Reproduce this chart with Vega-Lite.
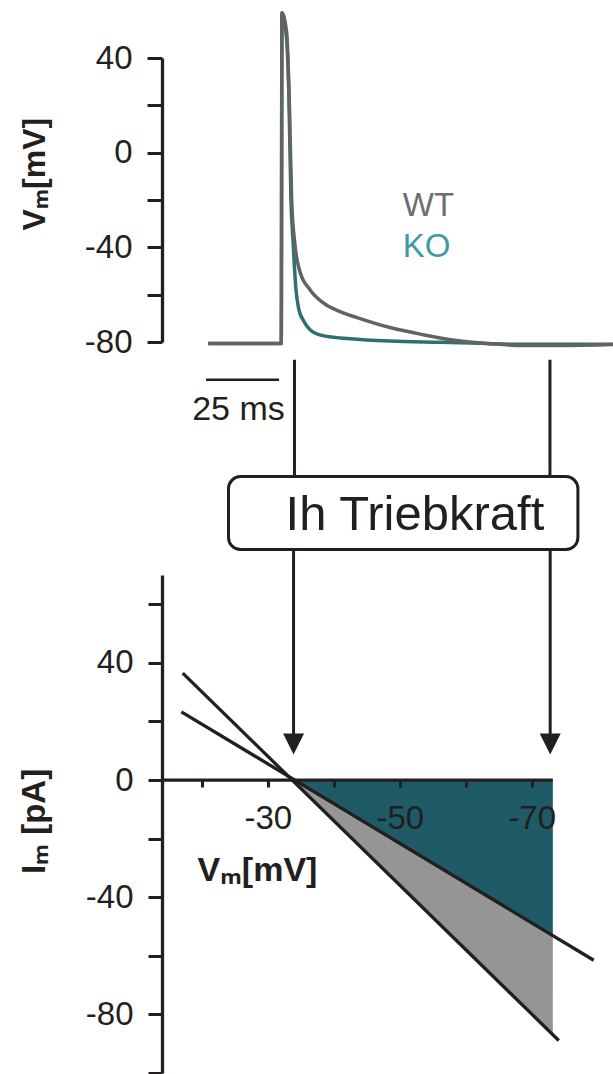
{
  "$schema": "https://vega.github.io/schema/vega-lite/v6.json",
  "padding": {"left": 18, "top": 5, "right": 0, "bottom": 0},
  "background": "white",
  "spacing": 233,
  "bounds": "flush",
  "config": {
    "view": {"stroke": null},
    "axis": {
      "grid": false,
      "labelFont": "Liberation Sans",
      "titleFont": "Liberation Sans, Noto Sans, DejaVu Sans",
      "domainColor": "#231f20",
      "tickColor": "#231f20",
      "labelColor": "#231f20",
      "titleColor": "#231f20"
    },
    "text": {"font": "Liberation Sans"}
  },
  "datasets": {
    "trace": [
      {"g": "KO", "t": -25.3, "v": -80.6},
      {"g": "KO", "t": -0.25, "v": -80.6},
      {"g": "KO", "t": 0, "v": 59.1},
      {"g": "KO", "t": 1.6, "v": 47.7},
      {"g": "KO", "t": 2.4, "v": 22.4},
      {"g": "KO", "t": 3.08, "v": -19.9},
      {"g": "KO", "t": 3.77, "v": -36.8},
      {"g": "KO", "t": 4.8, "v": -58},
      {"g": "KO", "t": 5.8, "v": -66.3},
      {"g": "KO", "t": 7.2, "v": -70.6},
      {"g": "KO", "t": 9.6, "v": -74.8},
      {"g": "KO", "t": 14.0, "v": -77.3},
      {"g": "KO", "t": 23.3, "v": -78.6},
      {"g": "KO", "t": 37.0, "v": -79.6},
      {"g": "KO", "t": 54.1, "v": -80.1},
      {"g": "KO", "t": 67.8, "v": -80.5},
      {"g": "KO", "t": 81.5, "v": -81.0},
      {"g": "KO", "t": 113.4, "v": -81.0},
      {"g": "WT", "t": -25.3, "v": -80.6},
      {"g": "WT", "t": -0.25, "v": -80.6},
      {"g": "WT", "t": 0, "v": 59.1},
      {"g": "WT", "t": 1.61, "v": 50.7},
      {"g": "WT", "t": 2.5, "v": 22.4},
      {"g": "WT", "t": 3.32, "v": -19.9},
      {"g": "WT", "t": 4.45, "v": -38.9},
      {"g": "WT", "t": 6.16, "v": -50.3},
      {"g": "WT", "t": 9.59, "v": -57.9},
      {"g": "WT", "t": 14.04, "v": -63.4},
      {"g": "WT", "t": 19.9, "v": -67.2},
      {"g": "WT", "t": 25.7, "v": -69.7},
      {"g": "WT", "t": 37.0, "v": -73.9},
      {"g": "WT", "t": 48.3, "v": -76.9},
      {"g": "WT", "t": 59.9, "v": -79.4},
      {"g": "WT", "t": 71.2, "v": -80.7},
      {"g": "WT", "t": 82.5, "v": -81.5},
      {"g": "WT", "t": 95.2, "v": -81.5},
      {"g": "WT", "t": 113.4, "v": -81.1}
    ],
    "legendText": [
      {"label": "WT", "t": 41.4, "v": -26.9},
      {"label": "KO", "t": 41.4, "v": -43.9}
    ],
    "scaleBar": [
      {"t": -26.0, "t2": -1.0, "v": -95.9, "v2": -95.9}
    ],
    "scaleText": [
      {"label": "25 ms", "t": -14.9, "v": -112.8}
    ],
    "topArrows": [
      {"t": 4.28, "t2": 4.28, "v": -87.5, "v2": -146.6},
      {"t": 91.8, "t2": 91.8, "v": -87.5, "v2": -146.6}
    ],
    "areas": [
      {"part": "gray", "v": -33.9, "i": 0, "i2": 0},
      {"part": "gray", "v": -73.2, "i": -86.9, "i2": -53.1},
      {"part": "teal", "v": -33.9, "i": 0, "i2": 0},
      {"part": "teal", "v": -73.2, "i": -53.1, "i2": 0}
    ],
    "ivLines": [
      {"line": "steep", "v": -17.1, "i": 36.5},
      {"line": "steep", "v": -74.1, "i": -88.9},
      {"line": "flat", "v": -16.9, "i": 23.3},
      {"line": "flat", "v": -79.4, "i": -61.5}
    ],
    "zeroLine": [
      {"v": -13.96, "v2": -73.2, "i": 0}
    ],
    "bottomArrows": [
      {"v": -33.9, "i": 90, "i2": 14},
      {"v": -72.8, "i": 90, "i2": 14}
    ],
    "arrowHeads": [
      {"v": -33.9, "i": 12.3},
      {"v": -72.8, "i": 12.3}
    ],
    "box": [
      {"v": -24.04, "v2": -77.0, "i": 103.6, "i2": 78.7}
    ],
    "boxText": [
      {"label": "Ih Triebkraft", "v": -52.3, "i": 85.5}
    ]
  },
  "vconcat": [
    {
      "width": 451,
      "height": 284,
      "encoding": {
        "x": {"field": "t", "type": "quantitative", "scale": {"domain": [-41.1, 113.4], "nice": false, "zero": false}, "axis": null},
        "y": {
          "field": "v", "type": "quantitative",
          "scale": {"domain": [-80, 40], "nice": false, "zero": false},
          "axis": {
            "orient": "left",
            "values": [-80, -60, -40, -20, 0, 20, 40],
            "labelExpr": "datum.value % 40 === 0 ? '' + datum.value : ''",
            "tickSize": 15, "tickWidth": 3, "domainWidth": 3.3,
            "labelFontSize": 33, "labelPadding": 15, "labelOverlap": false,
            "title": "Vₘ[mV]", "titleFontSize": 32, "titleFontWeight": "bold",
            "titleX": -128, "titleY": 115.7, "titleBaseline": "middle", "titleAngle": -90, "titleAlign": "center"
          }
        }
      },
      "layer": [
        {
          "data": {"name": "trace"},
          "transform": [{"filter": "datum.g === 'KO'"}],
          "mark": {"type": "line", "color": "#2e6f70", "strokeWidth": 3.5, "interpolate": "monotone"}
        },
        {
          "data": {"name": "trace"},
          "transform": [{"filter": "datum.g === 'WT'"}],
          "mark": {"type": "line", "color": "#636365", "strokeWidth": 3.5, "interpolate": "monotone"}
        },
        {
          "data": {"name": "legendText"},
          "mark": {"type": "text", "align": "left", "baseline": "alphabetic", "fontSize": 33},
          "encoding": {
            "text": {"field": "label"},
            "color": {"field": "label", "type": "nominal", "scale": {"domain": ["WT", "KO"], "range": ["#6d6e70", "#3d9ca1"]}, "legend": null}
          }
        },
        {
          "data": {"name": "scaleBar"},
          "mark": {"type": "rule", "color": "#231f20", "strokeWidth": 2.5},
          "encoding": {"x2": {"field": "t2"}, "y2": {"field": "v2"}}
        },
        {
          "data": {"name": "scaleText"},
          "mark": {"type": "text", "align": "center", "baseline": "alphabetic", "fontSize": 34, "color": "#231f20"},
          "encoding": {"text": {"field": "label"}}
        },
        {
          "data": {"name": "topArrows"},
          "mark": {"type": "rule", "color": "#231f20", "strokeWidth": 3},
          "encoding": {"y2": {"field": "v2"}}
        }
      ]
    },
    {
      "width": 451,
      "height": 498,
      "encoding": {
        "x": {
          "field": "v", "type": "quantitative",
          "scale": {"domain": [-82.32, -13.96], "reverse": true, "nice": false, "zero": false},
          "axis": {
            "orient": "bottom", "offset": -293, "zindex": 1,
            "values": [-20, -30, -40, -50, -60, -70],
            "labelExpr": "(datum.value + 30) % 20 === 0 ? '' + datum.value : ''",
            "domain": false, "tickSize": 7, "tickWidth": 3,
            "labelFontSize": 33, "labelPadding": 15, "labelOverlap": false, "labelFlush": false,
            "title": "Vₘ[mV]", "titleFontSize": 34, "titleFontWeight": "bold",
            "titleX": 95, "titleY": 90, "titleBaseline": "middle", "titleAlign": "center"
          }
        },
        "y": {
          "field": "i", "type": "quantitative",
          "scale": {"domain": [-100, 70], "nice": false, "zero": false},
          "axis": {
            "orient": "left",
            "values": [-100, -80, -60, -40, -20, 0, 20, 40, 60],
            "labelExpr": "datum.value % 40 === 0 ? '' + datum.value : ''",
            "tickSize": 14, "tickWidth": 3, "domainWidth": 3.3,
            "labelFontSize": 33, "labelPadding": 15, "labelOverlap": false,
            "title": "Iₘ [pA]", "titleFontSize": 33, "titleFontWeight": "bold",
            "titleX": -128, "titleY": 246, "titleBaseline": "middle", "titleAngle": -90, "titleAlign": "center"
          }
        }
      },
      "layer": [
        {
          "data": {"name": "areas"},
          "transform": [{"filter": "datum.part === 'gray'"}],
          "mark": {"type": "area", "orient": "vertical", "color": "#959595", "opacity": 1},
          "encoding": {"y2": {"field": "i2"}}
        },
        {
          "data": {"name": "areas"},
          "transform": [{"filter": "datum.part === 'teal'"}],
          "mark": {"type": "area", "orient": "vertical", "color": "#1f5a67", "opacity": 1},
          "encoding": {"y2": {"field": "i2"}}
        },
        {
          "data": {"name": "ivLines"},
          "mark": {"type": "line", "color": "#231f20", "strokeWidth": 3.3},
          "encoding": {"detail": {"field": "line"}}
        },
        {
          "data": {"name": "zeroLine"},
          "mark": {"type": "rule", "color": "#231f20", "strokeWidth": 3.3},
          "encoding": {"x2": {"field": "v2"}}
        },
        {
          "data": {"name": "bottomArrows"},
          "mark": {"type": "rule", "color": "#231f20", "strokeWidth": 3},
          "encoding": {"y2": {"field": "i2"}}
        },
        {
          "data": {"name": "arrowHeads"},
          "mark": {"type": "point", "shape": "M-1,-1L1,-1L0,1Z", "size": 441, "filled": true, "color": "#231f20", "opacity": 1}
        },
        {
          "data": {"name": "box"},
          "mark": {"type": "rect", "fill": "white", "stroke": "#231f20", "strokeWidth": 3, "cornerRadius": 12},
          "encoding": {"x2": {"field": "v2"}, "y2": {"field": "i2"}}
        },
        {
          "data": {"name": "boxText"},
          "mark": {"type": "text", "align": "center", "baseline": "alphabetic", "fontSize": 49, "color": "#231f20"},
          "encoding": {"text": {"field": "label"}}
        }
      ]
    }
  ]
}
